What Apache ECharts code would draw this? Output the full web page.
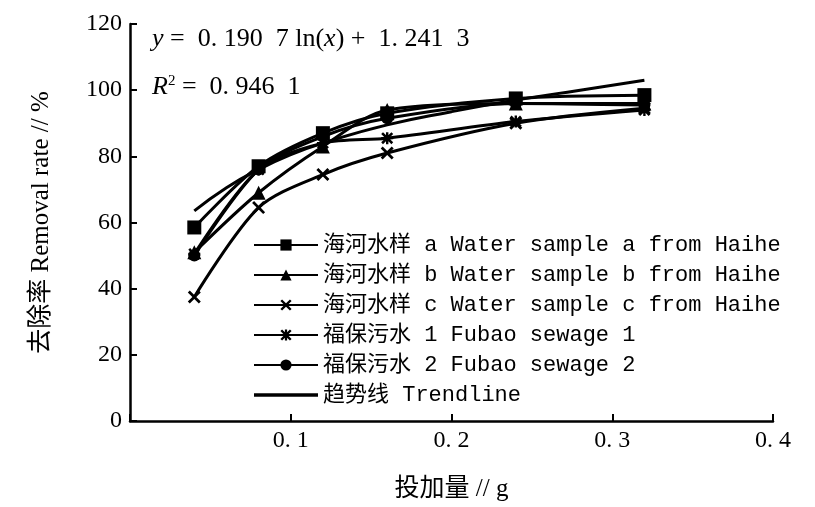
<!DOCTYPE html>
<html><head><meta charset="utf-8">
<script src="https://cdn.jsdelivr.net/npm/echarts@6/dist/echarts.min.js"></script>
<style>html,body{margin:0;padding:0;background:#fff}#c{width:815px;height:507px}</style>
</head><body><div id="c"></div>
<script>
const doses = [0.04, 0.08, 0.12, 0.16, 0.24, 0.32];
const seriesNames = [
  '海河水样 a Water sample a from Haihe',
  '海河水样 b Water sample b from Haihe',
  '海河水样 c Water sample c from Haihe',
  '福保污水 1 Fubao sewage 1',
  '福保污水 2 Fubao sewage 2',
  '趋势线 Trendline'
];
const haiheA = [58.5, 77, 87, 93, 97.5, 98.5];
const haiheB = [51, 69, 83, 94, 96, 96];
const haiheC = [37.5, 64.5, 74.5, 81, 90, 94.5];
const fubao1 = [50.5, 76, 84, 85.5, 90.5, 94];
const fubao2 = [50, 76, 86, 91.5, 96, 95.5];
const trendX = [0.04, 0.06, 0.08, 0.10, 0.12, 0.16, 0.20, 0.24, 0.28, 0.32];
const trendY = [63.5, 70.5, 76, 80.5, 84, 89.5, 93.5, 97, 100, 103];
const yTicks = ['0', '20', '40', '60', '80', '100', '120'];
const xTicks = ['', '0. 1', '0. 2', '0. 3', '0. 4'];

const crossPath = 'path://M0,1.5L1.5,0L5,3.5L8.5,0L10,1.5L6.5,5L10,8.5L8.5,10L5,6.5L1.5,10L0,8.5L3.5,5Z';
const starPath = 'path://M0,1.5L1.5,0L5,3.5L8.5,0L10,1.5L6.5,5L10,8.5L8.5,10L5,6.5L1.5,10L0,8.5L3.5,5Z M4,0L6,0L6,10L4,10Z M0,4L10,4L10,6L0,6Z';

function pair(xs, ys){ return xs.map((x,i)=>[x, ys[i]]); }
const lineStyle = {color:'#000', width:3};
function mk(name, ys, symbol, size){
  return {name, type:'line', data:pair(doses, ys), smooth:0.3, symbol, symbolSize:size,
    itemStyle:{color:'#000'}, lineStyle, z:3};
}
const chart = echarts.init(document.getElementById('c'), null, {renderer:'canvas'});
const serif = 'Liberation Serif, Noto Sans CJK SC';
const legendData = seriesNames.map((n, i) => i === 5 ? {name:n, icon:'path://M0,0H64V3.5H0Z'} : {name:n});
chart.setOption({
  animation:false,
  backgroundColor:'#fff',
  grid:{left:130, right:42, top:24, bottom:84},
  xAxis:{type:'value', min:0, max:0.4, interval:0.1,
    name:'投加量 // g', nameLocation:'middle', nameGap:56,
    nameTextStyle:{fontFamily:serif, fontSize:25, color:'#000'},
    axisLine:{lineStyle:{color:'#000', width:2.5}},
    axisTick:{inside:true, length:7, lineStyle:{color:'#000', width:2}},
    axisLabel:{fontFamily:serif, fontSize:24, color:'#000', margin:8,
      formatter:(v)=>xTicks[Math.round(v*10)]},
    splitLine:{show:false}},
  yAxis:{type:'value', min:0, max:120, interval:20,
    name:'去除率 Removal rate // %', nameLocation:'middle', nameGap:76,
    nameTextStyle:{fontFamily:serif, fontSize:25, color:'#000'},
    axisLine:{show:true, lineStyle:{color:'#000', width:2.5}},
    axisTick:{show:true, inside:true, length:7, lineStyle:{color:'#000', width:2}},
    axisLabel:{fontFamily:serif, fontSize:24, color:'#000', margin:8,
      formatter:(v)=>yTicks[Math.round(v/20)]},
    splitLine:{show:false}},
  legend:{orient:'vertical', left:248, top:229, itemWidth:64, itemHeight:14, itemGap:8,
    symbolKeepAspect:true,
    data:legendData,
    textStyle:{fontFamily:'Liberation Mono, Noto Sans CJK SC', fontSize:22, color:'#000'},
    itemStyle:{color:'#000'}},
  graphic:[
    {type:'text', left:152, top:26, style:{
      text:'{i|y} =  0. 190  7 ln({i|x}) +  1. 241  3',
      font:'26px Liberation Serif', fill:'#000',
      rich:{i:{fontStyle:'italic', fontFamily:'Liberation Serif', fontSize:26}}}},
    {type:'text', left:152, top:74, style:{
      text:'{i|R}{s|2} =  0. 946  1',
      font:'26px Liberation Serif', fill:'#000',
      rich:{i:{fontStyle:'italic', fontFamily:'Liberation Serif', fontSize:26},
            s:{fontFamily:'Liberation Serif', fontSize:15, verticalAlign:'top', padding:[0,0,12,0]}}}}
  ],
  series:[
    mk(seriesNames[0], haiheA, 'rect', 14),
    mk(seriesNames[1], haiheB, 'triangle', 14),
    mk(seriesNames[2], haiheC, crossPath, 13),
    mk(seriesNames[3], fubao1, starPath, 12),
    mk(seriesNames[4], fubao2, 'circle', 12),
    {name:seriesNames[5], type:'line', data:pair(trendX, trendY), smooth:true, symbol:'none',
      showSymbol:false, itemStyle:{color:'#000'}, lineStyle, z:2}
  ]
});
</script></body></html>
